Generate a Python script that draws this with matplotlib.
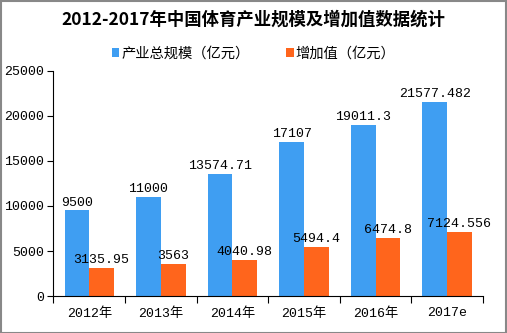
import matplotlib
matplotlib.use("Agg")
import matplotlib.pyplot as plt
import numpy as np
from matplotlib.patches import Rectangle

plt.rcParams['font.family'] = ['Noto Sans CJK SC', 'DejaVu Sans']
num_font = ['Liberation Mono', 'Noto Sans CJK SC']

# data
years = ["2012年", "2013年", "2014年", "2015年", "2016年", "2017e"]
total = [9500, 11000, 13574.71, 17107, 19011.3, 21577.482]
added = [3135.95, 3563, 4040.98, 5494.4, 6474.8, 7124.556]
total_labels = ["9500", "11000", "13574.71", "17107", "19011.3", "21577.482"]
added_labels = ["3135.95", "3563", "4040.98", "5494.4", "6474.8", "7124.556"]

blue = "#3f9ef2"
orange = "#ff651c"

fig = plt.figure(figsize=(5.07, 3.33), dpi=100)
ax = fig.add_axes([0.1055, 0.111, 0.847, 0.676])

x = np.arange(len(years))
w = 0.345
ax.bar(x - w / 2, total, w, color=blue, label="产业总规模（亿元）")
ax.bar(x + w / 2, added, w, color=orange, label="增加值（亿元）")

for i in range(len(years)):
    ax.text(x[i] - w / 2, total[i] + 200, total_labels[i], ha="center", va="bottom",
            fontsize=9.5, family=num_font)
    ax.text(x[i] + w / 2, added[i] + 200, added_labels[i], ha="center", va="bottom",
            fontsize=9.5, family=num_font)

ax.set_xlim(-0.5, len(years) - 0.5)
ax.set_ylim(0, 25000)
ax.set_yticks(range(0, 25001, 5000))
ax.tick_params(axis="y", labelsize=9.5, length=4, width=0.8, pad=3)
for t in ax.get_yticklabels():
    t.set_family(num_font)

# category boundary ticks
ax.set_xticks(np.arange(-0.5, len(years), 1))
ax.set_xticklabels([])
ax.set_xticks(x, minor=True)
ax.set_xticklabels(years, minor=True, family=num_font)
ax.tick_params(axis="x", which="major", length=5, width=0.8)
ax.tick_params(axis="x", which="minor", length=0, labelsize=9.5, pad=8)

for s in ["top", "right"]:
    ax.spines[s].set_visible(False)
for s in ["left", "bottom"]:
    ax.spines[s].set_linewidth(0.8)

fig.text(0.5, 0.94, "2012-2017年中国体育产业规模及增加值数据统计",
         ha="center", va="center", fontsize=12.5, fontweight="bold")

leg = fig.legend(loc="center", bbox_to_anchor=(0.5, 0.84), ncol=2, frameon=False,
                 fontsize=10.3, handlelength=0.55, handleheight=0.55, handletextpad=0.15,
                 columnspacing=2.5)

fig.patches.append(Rectangle((0.001, 0.001), 0.997, 0.996, transform=fig.transFigure,
                             fill=False, edgecolor="#888888", linewidth=1.5))

fig.savefig("out.png", dpi=100)
